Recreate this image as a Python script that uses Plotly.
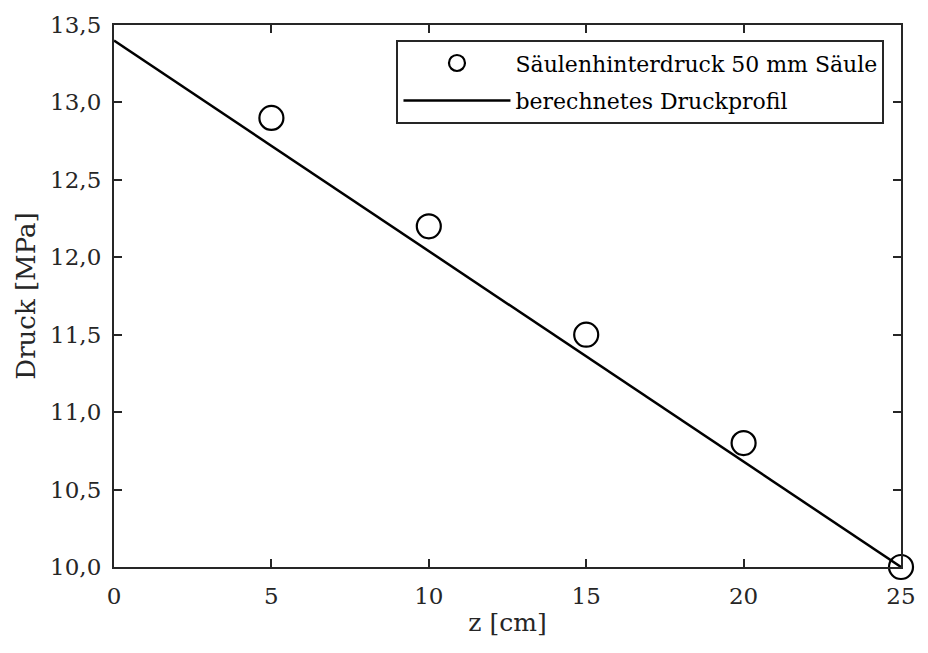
import plotly.graph_objects as go

z_meas = [5, 10, 15, 20, 25]
p_meas = [12.9, 12.2, 11.5, 10.8, 10.0]
z_calc = [0, 25]
p_calc = [13.4, 10.0]
x_ticks = [0, 5, 10, 15, 20, 25]
y_ticks = [10.0, 10.5, 11.0, 11.5, 12.0, 12.5, 13.0, 13.5]

FONT = "DejaVu Serif, Liberation Serif, serif"
fig = go.Figure()
fig.add_trace(go.Scatter(x=z_meas, y=p_meas, mode="markers",
                         name="Säulenhinterdruck 50 mm Säule", legendgroup="a",
                         marker=dict(symbol="circle-open", size=24, color="black",
                                     line=dict(width=2.2, color="black")),
                         cliponaxis=False))
fig.add_trace(go.Scatter(x=z_calc, y=p_calc, mode="lines",
                         name="berechnetes Druckprofil", legendgroup="b",
                         line=dict(color="black", width=2.5), cliponaxis=False))

axis_common = dict(showline=True, linecolor="#262626", linewidth=2.2, mirror="ticks",
                   ticks="inside", ticklen=8, tickwidth=2, tickcolor="#262626",
                   showgrid=False, zeroline=False,
                   tickfont=dict(family=FONT, size=23, color="#262626"))
fig.update_xaxes(range=[0, 25], tickvals=x_ticks, ticklabelstandoff=7,
                 title=dict(text="z [cm]", font=dict(family=FONT, size=25, color="#262626"), standoff=6),
                 **axis_common)
fig.update_yaxes(range=[10, 13.5], tickvals=y_ticks, tickformat=".1f", ticklabelstandoff=6,
                 title=dict(text="Druck [MPa]", font=dict(family=FONT, size=26, color="#262626"), standoff=7),
                 **axis_common)
fig.update_layout(width=928, height=653, margin=dict(l=114, r=17, t=18, b=86),
                  plot_bgcolor="white", paper_bgcolor="white", separators=",.",
                  font=dict(family=FONT, size=23, color="#262626"),
                  legend=dict(x=0.979, y=0.972, xanchor="right", yanchor="top",
                              bordercolor="#262626", borderwidth=2, bgcolor="white",
                              font=dict(family=FONT, size=22, color="black"),
                              itemwidth=107, tracegroupgap=6, traceorder="grouped"))
fig.write_html("out.html")
